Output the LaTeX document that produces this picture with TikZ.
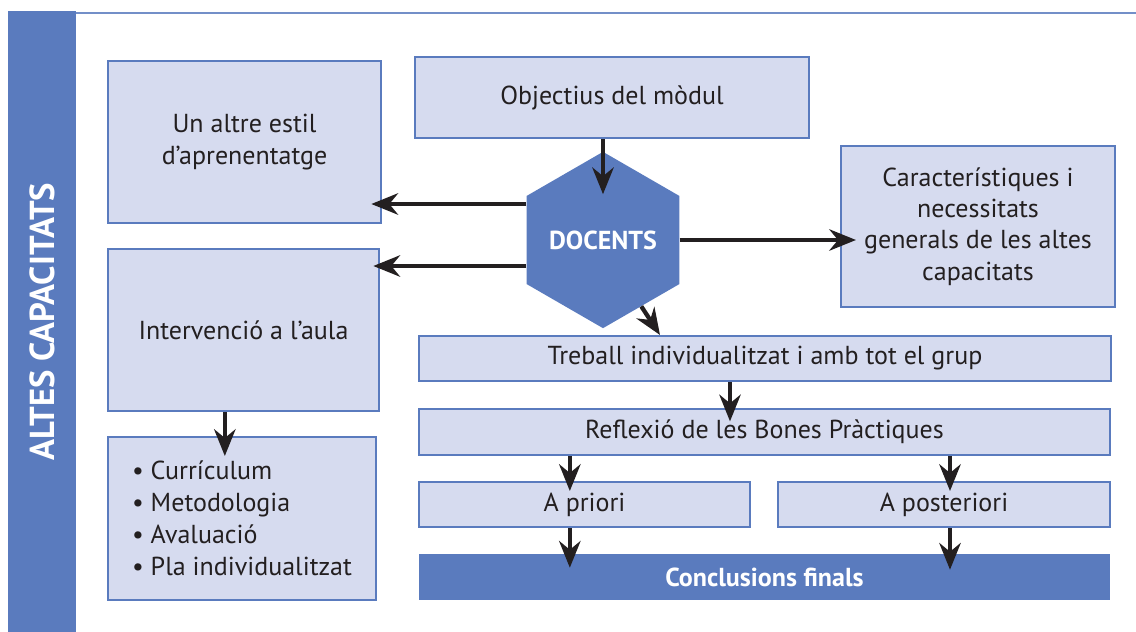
\documentclass[tikz,border=0pt]{standalone}
\usepackage{fontspec}
\setmainfont{PT Sans}
\usetikzlibrary{arrows.meta,shapes.geometric}
\definecolor{blauFort}{HTML}{5A7BBE}
\definecolor{blauClar}{HTML}{D6DBEF}
\definecolor{textFosc}{HTML}{231F20}
\tikzstyle{caixa}=[draw=blauFort, fill=blauClar, line width=1.5pt, text=textFosc, align=center, inner sep=0pt, font=\fontsize{19.5}{23.5}\selectfont]
\tikzstyle{plena}=[fill=blauFort, text=white, align=center, inner sep=0pt, font=\bfseries\fontsize{19.5}{22}\selectfont]
\tikzstyle{fletxa}=[-{Stealth[length=20pt,width=16pt]}, line width=3.2pt, color=textFosc]

\begin{document}
\begin{tikzpicture}[x=0.75pt, y=-0.75pt]
        \useasboundingbox (0,0) rectangle (1136,632);
        %\draw [blauFort, line width=1pt] (0,0) rectangle (1136,632);
        \node(barra) [plena, rotate=90, minimum width=465.75pt, minimum height=51pt, font=\bfseries\fontsize{26}{28}\selectfont] at (42,321.5){ALTES CAPACITATS};
        \draw [blauFort!85, line width=1.5pt] ([yshift=-1.5pt]barra.south east) -- +(1060,0);
        % columna esquerra
        \node(estil) [caixa, minimum width=204.75pt, minimum height=121.5pt] at (244.5,142){Un altre estil\\d'aprenentatge};
        \node(aula) [caixa, minimum width=203.25pt, minimum height=121.5pt] at (243.5,330){Intervenció a l'aula};
        \node(llista) [caixa, minimum width=201pt, minimum height=122.25pt, align=left, font=\fontsize{19.5}{24}\selectfont] at (242,518.5){%
          \textbullet\ Currículum\\ \textbullet\ Metodologia\\ \textbullet\ Avaluació\\ \textbullet\ Pla individualitzat};
        % centre
        \node(objectius) [caixa, minimum width=295.5pt, minimum height=60.75pt] at (612,97.5){Objectius del mòdul};
        \node(docents) [plena, regular polygon, regular polygon sides=6, shape border rotate=30, minimum size=125pt] at (603,240){DOCENTS};
        \node(caract) [caixa, minimum width=205.5pt, minimum height=120.75pt] at (978,226.5){Característiques i\\necessitats\\generals de les altes\\capacitats};
        % files de baix
        \node(treball) [caixa, minimum width=519pt, minimum height=33.75pt] at (765,358.5){Treball individualitzat i amb tot el grup};
        \node(reflexio) [caixa, minimum width=518.25pt, minimum height=34.5pt] at (764.5,432){Reflexió de les Bones Pràctiques};
        \node(apriori) [caixa, minimum width=248.25pt, minimum height=33.75pt] at (584.5,504.5){A priori};
        \node(aposteriori) [caixa, minimum width=249pt, minimum height=33.75pt] at (944,504.5){A posteriori};
        \node(conclusions) [plena, minimum width=518.25pt, minimum height=34.5pt] at (764.5,577){Conclusions finals};
        % fletxes
        \draw[fletxa, shorten >=-32pt] (objectius.south -| docents.north) -- (docents.north);
        \draw[fletxa, shorten >=-8pt] ([yshift=27pt]docents.west) -- ([yshift=27pt]docents.west -| estil.east);
        \draw[fletxa, shorten >=-5pt] ([yshift=-19.5pt]docents.west) -- ([yshift=-19.5pt]docents.west -| aula.east);
        \draw[fletxa, shorten >=-12pt] (docents.east) -- (docents.east -| caract.west);
        \draw[fletxa] (docents.-60) -- ([xshift=-78.75pt]treball.north);
        \draw[fletxa, shorten >=-10pt] ([xshift=-26.25pt]treball.south) -- ([xshift=-26.25pt]treball.south |- reflexio.north);
        \draw[fletxa, shorten >=-7.5pt] ([xshift=-11pt]apriori.north |- reflexio.south) -- ([xshift=-11pt]apriori.north);
        \draw[fletxa, shorten >=-7.5pt] ([xshift=4.5pt]aposteriori.north |- reflexio.south) -- ([xshift=4.5pt]aposteriori.north);
        \draw[fletxa, shorten >=-10.5pt] ([xshift=-11pt]apriori.south) -- ([xshift=-11pt]apriori.south |- conclusions.north);
        \draw[fletxa, shorten >=-12pt] ([xshift=4.5pt]aposteriori.south) -- ([xshift=4.5pt]aposteriori.south |- conclusions.north);
        \draw[fletxa, shorten >=-15pt] ([xshift=-14pt]aula.south) -- ([xshift=-14pt]aula.south |- llista.north);
     \end{tikzpicture}
\end{document}
